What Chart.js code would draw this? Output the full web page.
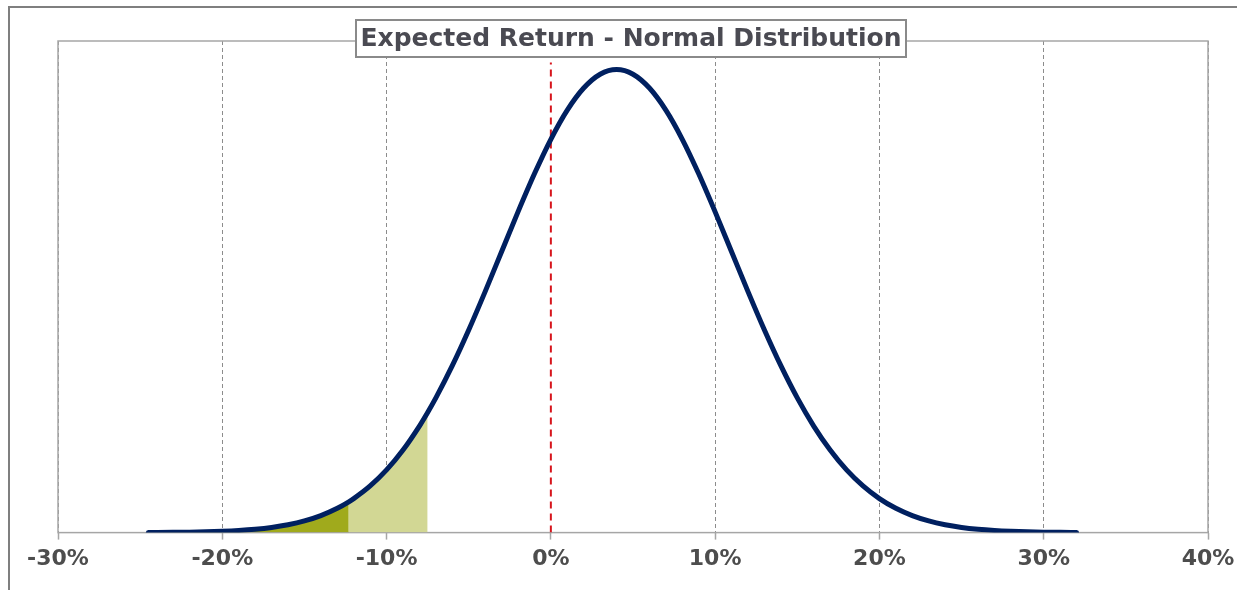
<!DOCTYPE html>
<html>
<head>
<meta charset="utf-8">
<script src="https://cdn.jsdelivr.net/npm/chart.js@4"></script>
<style>
  html, body { margin: 0; padding: 0; background: #fff; }
  #wrap { position: relative; width: 1237px; height: 590px; }
</style>
</head>
<body>
<div id="wrap"><canvas id="c" width="1237" height="590"></canvas></div>
<script>
// ---- data ----
const chartTitle = 'Expected Return - Normal Distribution';
const xTicks = [-30, -20, -10, 0, 10, 20, 30, 40];
// return (%) and density of the normal curve (mean ~4%, sd ~7%)
const curveX = [-24.5, -24, -23, -22, -21, -20, -19, -18, -17, -16, -15, -14, -13, -12.3, -12, -11, -10, -9, -8, -7.5, -7, -6, -5, -4, -3, -2, -1, 0, 1, 2, 3, 4, 5, 6, 7, 8, 9, 10, 11, 12, 13, 14, 15, 16, 17, 18, 19, 20, 21, 22, 23, 24, 25, 26, 27, 28, 29, 30, 31, 32];
const curveY = [0.0014, 0.0019, 0.0034, 0.0058, 0.0097, 0.0160, 0.0258, 0.0408, 0.0633, 0.0962, 0.1432, 0.2090, 0.2985, 0.3789, 0.4182, 0.5737, 0.7713, 1.0160, 1.3111, 1.4782, 1.6578, 2.0542, 2.4937, 2.9660, 3.4566, 3.9471, 4.4155, 4.8405, 5.1990, 5.4710, 5.6412, 5.6990, 5.6412, 5.4710, 5.1990, 4.8405, 4.4155, 3.9471, 3.4566, 2.9660, 2.4937, 2.0542, 1.6578, 1.3111, 1.0160, 0.7713, 0.5737, 0.4182, 0.2985, 0.2090, 0.1432, 0.0962, 0.0633, 0.0408, 0.0258, 0.0160, 0.0097, 0.0058, 0.0034, 0.0019];
const tail1Cut = -12.3;   // dark shaded tail ends here
const tail5Cut = -7.5;    // light shaded tail ends here
const zeroLineX = [0, 0];
const zeroLineY = [0, 5.785];

const curvePts = curveX.map((x, i) => ({ x: x, y: curveY[i] }));
const tail1Pts = curvePts.filter(p => p.x <= tail1Cut);
const tail5Pts = curvePts.filter(p => p.x >= tail1Cut && p.x <= tail5Cut);
const zeroPts = zeroLineX.map((x, i) => ({ x: x, y: zeroLineY[i] }));

const FONT = '"DejaVu Sans", Verdana, sans-serif';

const decor = {
  id: 'decor',
  beforeDraw(chart) {
    const ctx = chart.ctx;
    ctx.save();
    ctx.fillStyle = '#fff';
    ctx.fillRect(0, 0, chart.width, chart.height);
    ctx.strokeStyle = '#7f7f7f';
    ctx.lineWidth = 2;
    ctx.beginPath();
    ctx.moveTo(9, chart.height);
    ctx.lineTo(9, 7);
    ctx.lineTo(chart.width, 7);
    ctx.stroke();
    ctx.restore();
  },
  beforeDatasetsDraw(chart) {
    const a = chart.chartArea, ctx = chart.ctx;
    ctx.save();
    ctx.strokeStyle = '#a6a6a6';
    ctx.lineWidth = 1.5;
    ctx.strokeRect(a.left, a.top, a.right - a.left, a.bottom - a.top);
    ctx.restore();
  },
  afterDraw(chart) {
    const ctx = chart.ctx;
    ctx.save();
    const bx = 356, by = 20, bw = 550, bh = 37;
    ctx.fillStyle = '#fff';
    ctx.fillRect(bx, by, bw, bh);
    ctx.strokeStyle = '#8a8a8a';
    ctx.lineWidth = 2;
    ctx.strokeRect(bx, by, bw, bh);
    ctx.fillStyle = '#4a4a52';
    ctx.font = 'bold 25px ' + FONT;
    ctx.textAlign = 'center';
    ctx.textBaseline = 'middle';
    ctx.fillText(chartTitle, bx + bw / 2, by + bh / 2 + 1);
    ctx.restore();
  }
};

new Chart(document.getElementById('c'), {
  type: 'line',
  data: {
    datasets: [
      {
        data: curvePts, borderColor: '#002060', borderWidth: 5,
        borderCapStyle: 'round', pointRadius: 0, fill: false,
        cubicInterpolationMode: 'monotone', order: 0
      },
      {
        data: zeroPts, borderColor: '#d7141c', borderWidth: 2,
        borderDash: [7, 5], pointRadius: 0, fill: false, order: 1
      },
      {
        data: tail1Pts, borderWidth: 0, borderColor: 'rgba(0,0,0,0)',
        backgroundColor: '#a0aa1c', pointRadius: 0, fill: 'origin',
        cubicInterpolationMode: 'monotone', order: 2
      },
      {
        data: tail5Pts, borderWidth: 0, borderColor: 'rgba(0,0,0,0)',
        backgroundColor: '#d2d794', pointRadius: 0, fill: 'origin',
        cubicInterpolationMode: 'monotone', order: 3
      }
    ]
  },
  options: {
    responsive: false,
    animation: false,
    events: [],
    layout: { padding: { left: 58, right: 29, top: 41, bottom: 12 } },
    plugins: { legend: { display: false }, title: { display: false }, tooltip: { enabled: false } },
    scales: {
      x: {
        type: 'linear', min: -30, max: 40,
        afterBuildTicks(scale) { scale.ticks = xTicks.map(v => ({ value: v })); },
        afterFit(scale) { scale.paddingLeft = 0; scale.paddingRight = 0; },
        ticks: {
          callback: v => v + '%',
          color: '#4d4d4d',
          font: { family: FONT, size: 22, weight: 'bold' },
          padding: 6,
          maxRotation: 0
        },
        grid: {
          color: ctx => (ctx.tick && (ctx.tick.value === 0)) ? 'rgba(0,0,0,0)' : '#8c8c8c',
          lineWidth: 1,
          drawTicks: true,
          tickLength: 7,
          tickColor: '#a6a6a6',
          tickWidth: 1.5,
          tickBorderDash: []
        },
        border: { display: false, dash: [4, 3] }
      },
      y: {
        display: false, min: 0, max: 6.05
      }
    }
  },
  plugins: [decor]
});
</script>
</body>
</html>
